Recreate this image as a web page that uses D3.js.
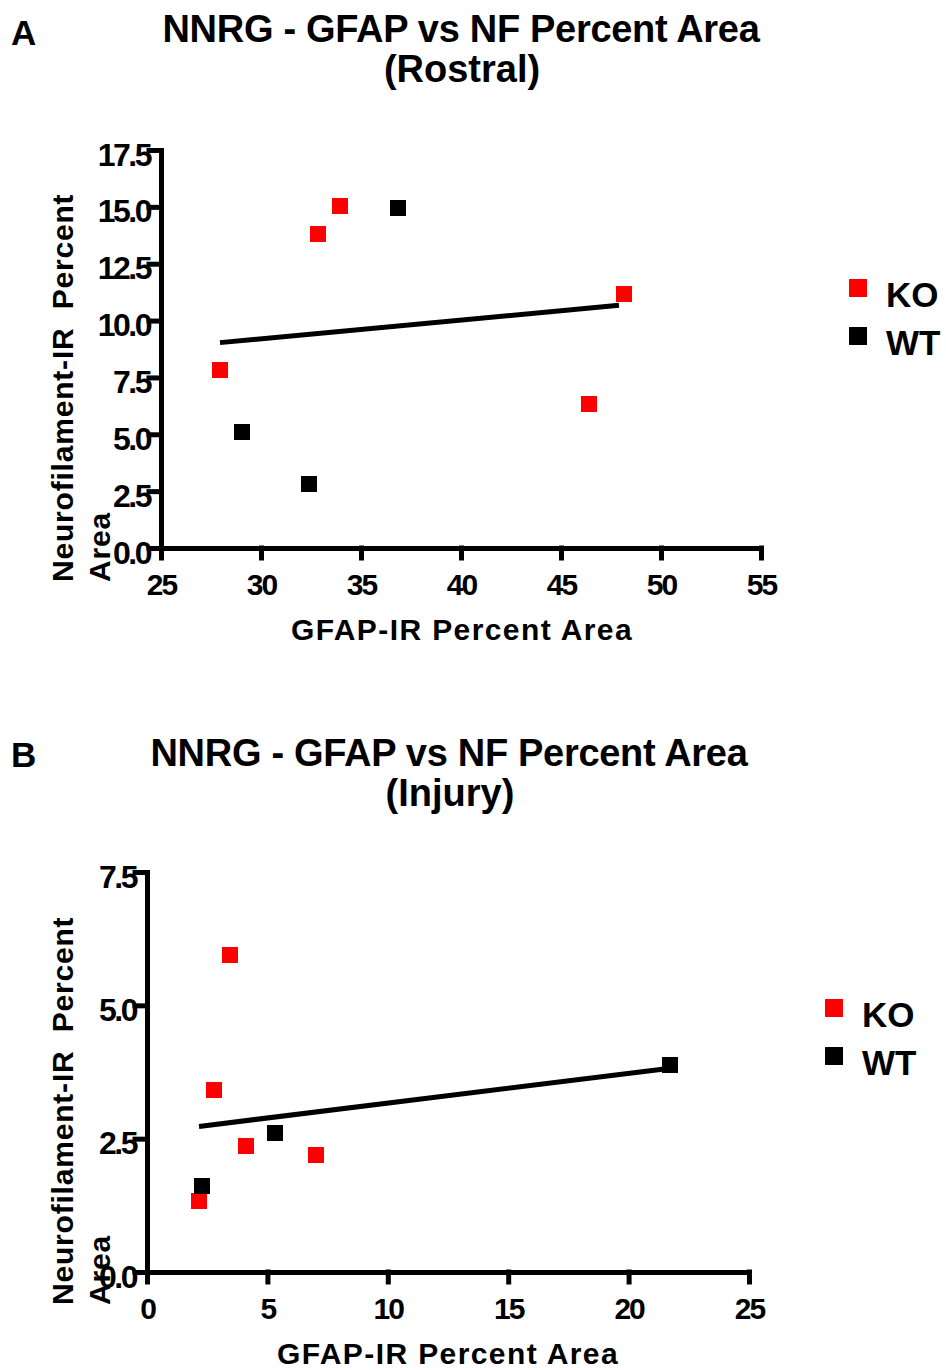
<!DOCTYPE html>
<html>
<head>
<meta charset="utf-8">
<script src="https://cdn.jsdelivr.net/npm/d3@7"></script>
<style>
  body { margin: 0; background: #fff; }
  text { font-family: "Liberation Sans", Arial, sans-serif; font-weight: bold; fill: #000; }
</style>
</head>
<body>
<div id="container"></div>
<script>
// Data: [GFAP %, NF %]
const groups = ['KO', 'WT'];
const groupColors = ['#ff0000', '#000000'];

const rostralKO = [[27.95, 7.83], [32.85, 13.8], [33.95, 15.04], [48.15, 11.17], [46.4, 6.33]];
const rostralWT = [[36.85, 14.95], [29.05, 5.1], [32.4, 2.81]];
const rostralFit = [[27.95, 9.03], [47.9, 10.67]];
const rostralXTicks = [25, 30, 35, 40, 45, 50, 55];
const rostralYTicks = [0, 2.5, 5, 7.5, 10, 12.5, 15, 17.5];

const injuryKO = [[3.45, 5.95], [2.78, 3.42], [4.11, 2.37], [7.02, 2.2], [2.16, 1.34]];
const injuryWT = [[2.3, 1.62], [5.32, 2.6], [21.72, 3.88]];
const injuryFit = [[2.16, 2.73], [21.4, 3.8]];
const injuryXTicks = [0, 5, 10, 15, 20, 25];
const injuryYTicks = [0, 2.5, 5, 7.5];

const svg = d3.select('#container').append('svg')
  .attr('width', 946)
  .attr('height', 1370);

function drawPanel(p) {
  const g = svg.append('g');

  // Scales
  const x = d3.scaleLinear().domain(d3.extent(p.xTicks)).range([p.left, p.right]);
  const y = d3.scaleLinear().domain(d3.extent(p.yTicks)).range([p.bottom, p.top]);

  // Letter + title
  g.append('text').attr('x', 11).attr('y', p.letterY)
    .style('font-size', '35px').text(p.letter);
  g.append('text').attr('x', p.titleX).attr('y', p.titleY)
    .attr('text-anchor', 'middle').style('font-size', '38px').style('letter-spacing', '-0.3px')
    .text('NNRG - GFAP vs NF Percent Area');
  g.append('text').attr('x', p.titleX + 1).attr('y', p.titleY + 40)
    .attr('text-anchor', 'middle').style('font-size', '38px')
    .text(p.subtitle);

  // Axes
  const xAxis = g.append('g')
    .attr('transform', `translate(0,${p.bottom})`)
    .call(d3.axisBottom(x).tickValues(p.xTicks).tickSize(10).tickSizeOuter(0).tickFormat(d3.format('d')));
  xAxis.selectAll('text').attr('y', 47).attr('dy', 0)
    .style('font-size', '30px').style('letter-spacing', '-2px');

  const yAxis = g.append('g')
    .attr('transform', `translate(${p.left},0)`)
    .call(d3.axisLeft(y).tickValues(p.yTicks).tickSize(12).tickSizeOuter(0).tickFormat(d3.format('.1f')));
  yAxis.selectAll('text').attr('x', -11).attr('dy', 0).attr('y', 15)
    .style('font-size', '32px').style('letter-spacing', '-2.5px');

  g.selectAll('.domain, .tick line')
    .attr('stroke', '#000').attr('stroke-width', 5).attr('stroke-linecap', 'square');
  g.selectAll('.tick text').attr('fill', '#000');
  xAxis.attr('font-family', null).attr('font-size', null);
  yAxis.attr('font-family', null).attr('font-size', null);

  // Axis titles
  g.append('text').attr('x', p.xTitleX).attr('y', p.bottom + 92)
    .attr('text-anchor', 'middle').style('font-size', '30px').style('letter-spacing', '1.4px')
    .text('GFAP-IR Percent Area');
  const yt = g.append('text')
    .attr('transform', `translate(73,${p.yTitleY}) rotate(-90)`)
    .style('font-size', '30px').style('letter-spacing', '0.8px').style('white-space', 'pre');
  yt.append('tspan').attr('x', 0).attr('y', 0).text('Neurofilament-IR  Percent');
  yt.append('tspan').attr('x', 0).attr('y', 37).text('Area');

  // Regression line
  g.append('path')
    .datum(p.fit)
    .attr('d', d3.line().x(d => x(d[0])).y(d => y(d[1])))
    .attr('fill', 'none').attr('stroke', '#000').attr('stroke-width', 5);

  // Points
  const s = 16;
  [p.ko, p.wt].forEach((pts, i) => {
    g.selectAll(null).data(pts).enter().append('rect')
      .attr('x', d => x(d[0]) - s / 2)
      .attr('y', d => y(d[1]) - s / 2)
      .attr('width', s).attr('height', s)
      .attr('shape-rendering', 'crispEdges')
      .attr('fill', groupColors[i]);
  });

  // Legend
  groups.forEach((name, i) => {
    const cy = p.legendY + i * 48;
    g.append('rect').attr('x', p.legendX - 9).attr('y', cy - 9)
      .attr('width', 18).attr('height', 18).attr('fill', groupColors[i]);
    g.append('text').attr('x', p.legendX + 28).attr('y', cy + 19)
      .style('font-size', '35px').text(name);
  });
}

drawPanel({
  letter: 'A', letterY: 45, subtitle: '(Rostral)', titleX: 461, titleY: 42,
  left: 161, right: 761, top: 150, bottom: 548,
  xTicks: rostralXTicks, yTicks: rostralYTicks,
  ko: rostralKO, wt: rostralWT, fit: rostralFit,
  xTitleX: 462, yTitleY: 582,
  legendX: 858, legendY: 288
});

drawPanel({
  letter: 'B', letterY: 767, subtitle: '(Injury)', titleX: 449, titleY: 766,
  left: 147, right: 749, top: 872, bottom: 1272,
  xTicks: injuryXTicks, yTicks: injuryYTicks,
  ko: injuryKO, wt: injuryWT, fit: injuryFit,
  xTitleX: 448, yTitleY: 1305,
  legendX: 834, legendY: 1008
});
</script>
</body>
</html>
